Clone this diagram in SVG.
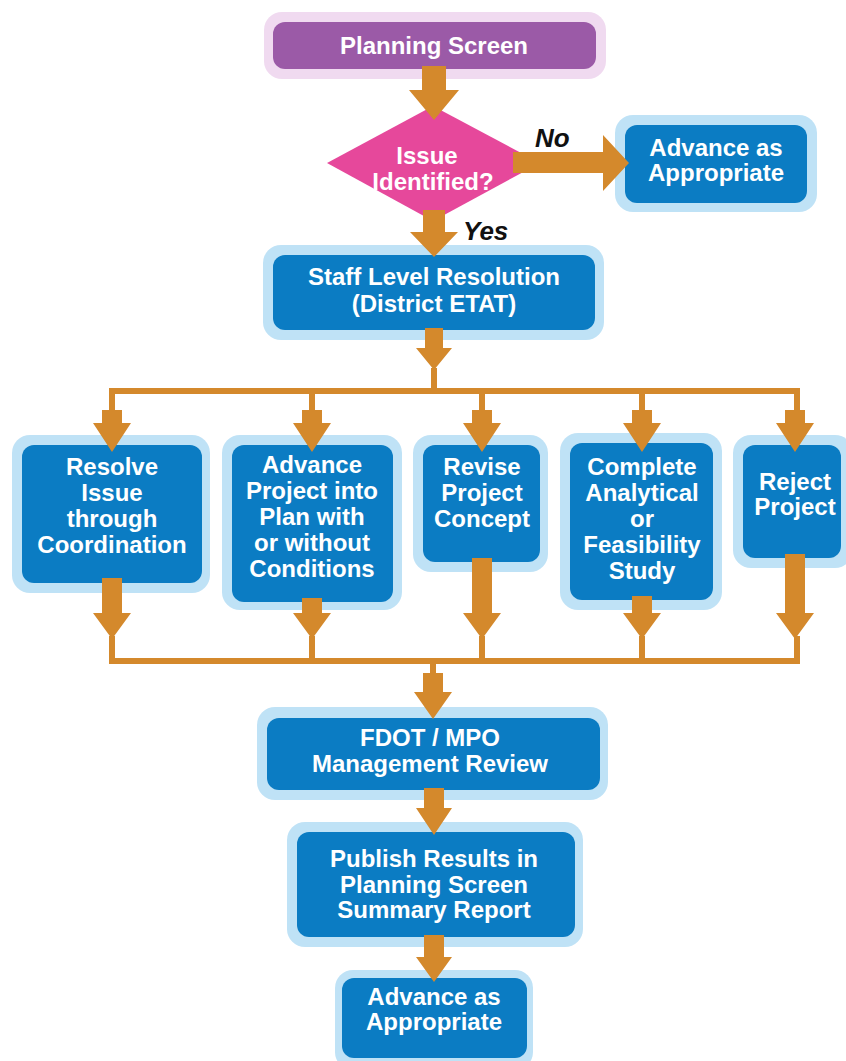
<svg xmlns="http://www.w3.org/2000/svg" width="846" height="1061" viewBox="0 0 846 1061">
<style>
.halo{fill:#bfe2f6}
.box{fill:#0b7cc3}
.t{font-family:"Liberation Sans",Arial,sans-serif;font-weight:bold;font-size:24px;fill:#fff;text-anchor:middle}
.lbl{font-family:"Liberation Sans",Arial,sans-serif;font-weight:bold;font-style:italic;font-size:26px;fill:#111}
.arr{fill:#d4892c}
.bus{fill:none;stroke:#d4892c;stroke-width:6}
</style>
<rect width="846" height="1061" fill="#fff"/>
<g id="planning-screen">
<rect x="264" y="12" width="342" height="67" rx="18" fill="#f0daf0"/>
<rect x="273" y="22" width="323" height="47" rx="12" fill="#9b5aa7"/>
<text class="t" x="434" y="54">Planning Screen</text>
</g>
<g id="issue-identified">
<polygon points="433,106 540,163 433,221 327,163" fill="#e6489b"/>
<text class="t" x="427" y="164">Issue</text>
<text class="t" x="433" y="190">Identified?</text>
</g>
<g id="advance-top">
<rect x="615" y="115" width="202" height="97" rx="18" class="halo"/>
<rect x="625" y="125" width="182" height="78" rx="12" class="box"/>
<text class="t" x="716" y="156">Advance as</text>
<text class="t" x="716" y="181">Appropriate</text>
</g>
<g id="staff-level">
<rect x="263" y="245" width="341" height="95" rx="18" class="halo"/>
<rect x="273" y="255" width="322" height="75" rx="12" class="box"/>
<text class="t" x="434" y="285">Staff Level Resolution</text>
<text class="t" x="434" y="312">(District ETAT)</text>
</g>
<g id="resolve-issue">
<rect x="12" y="435" width="198" height="158" rx="18" class="halo"/>
<rect x="22" y="445" width="180" height="138" rx="12" class="box"/>
<text class="t" x="112" y="475">Resolve</text>
<text class="t" x="112" y="501">Issue</text>
<text class="t" x="112" y="527">through</text>
<text class="t" x="112" y="553">Coordination</text>
</g>
<g id="advance-project">
<rect x="222" y="435" width="180" height="175" rx="18" class="halo"/>
<rect x="232" y="445" width="161" height="157" rx="12" class="box"/>
<text class="t" x="312" y="473">Advance</text>
<text class="t" x="312" y="499">Project into</text>
<text class="t" x="312" y="525">Plan with</text>
<text class="t" x="312" y="551">or without</text>
<text class="t" x="312" y="577">Conditions</text>
</g>
<g id="revise-project">
<rect x="413" y="435" width="135" height="137" rx="18" class="halo"/>
<rect x="423" y="445" width="117" height="117" rx="12" class="box"/>
<text class="t" x="482" y="475">Revise</text>
<text class="t" x="482" y="501">Project</text>
<text class="t" x="482" y="527">Concept</text>
</g>
<g id="complete-study">
<rect x="560" y="433" width="162" height="177" rx="18" class="halo"/>
<rect x="570" y="443" width="143" height="157" rx="12" class="box"/>
<text class="t" x="642" y="475">Complete</text>
<text class="t" x="642" y="501">Analytical</text>
<text class="t" x="642" y="527">or</text>
<text class="t" x="642" y="553">Feasibility</text>
<text class="t" x="642" y="579">Study</text>
</g>
<g id="reject-project">
<rect x="733" y="435" width="120" height="133" rx="18" class="halo"/>
<rect x="743" y="445" width="98" height="113" rx="12" class="box"/>
<text class="t" x="795" y="490">Reject</text>
<text class="t" x="795" y="515">Project</text>
</g>
<g id="management-review">
<rect x="257" y="707" width="351" height="93" rx="18" class="halo"/>
<rect x="267" y="718" width="333" height="72" rx="12" class="box"/>
<text class="t" x="430" y="746">FDOT / MPO</text>
<text class="t" x="430" y="772">Management Review</text>
</g>
<g id="publish-results">
<rect x="287" y="822" width="296" height="125" rx="18" class="halo"/>
<rect x="297" y="832" width="278" height="105" rx="12" class="box"/>
<text class="t" x="434" y="867">Publish Results in</text>
<text class="t" x="434" y="893">Planning Screen</text>
<text class="t" x="434" y="918">Summary Report</text>
</g>
<g id="advance-bottom">
<rect x="335" y="970" width="198" height="100" rx="18" class="halo"/>
<rect x="342" y="978" width="185" height="80" rx="12" class="box"/>
<text class="t" x="434" y="1005">Advance as</text>
<text class="t" x="434" y="1030">Appropriate</text>
</g>
<g id="connectors">
<polygon class="arr" points="422,66 446,66 446,90 459,90 434,120 409,90 422,90"/>
<polygon class="arr" points="513,152 603,152 603,135 629,163 603,191 603,173 513,173"/>
<polygon class="arr" points="423,210 445,210 445,232 458,232 434,257 410,232 423,232"/>
<polygon class="arr" points="425,328 443,328 443,348 452,348 434,370 416,348 425,348"/>
<line x1="434" y1="368" x2="434" y2="391" stroke="#d4892c" stroke-width="6"/>
<polyline class="bus" points="112,412 112,391 797,391 797,412"/>
<line x1="312" y1="391" x2="312" y2="412" stroke="#d4892c" stroke-width="6"/>
<line x1="482" y1="391" x2="482" y2="412" stroke="#d4892c" stroke-width="6"/>
<line x1="642" y1="391" x2="642" y2="412" stroke="#d4892c" stroke-width="6"/>
<polygon class="arr" points="102,410 122,410 122,423 131,423 112,452 93,423 102,423"/>
<polygon class="arr" points="302,410 322,410 322,423 331,423 312,452 293,423 302,423"/>
<polygon class="arr" points="472,410 492,410 492,423 501,423 482,452 463,423 472,423"/>
<polygon class="arr" points="632,410 652,410 652,423 661,423 642,452 623,423 632,423"/>
<polygon class="arr" points="785,410 805,410 805,423 814,423 795,452 776,423 785,423"/>
<polygon class="arr" points="102,578 122,578 122,613 131,613 112,639 93,613 102,613"/>
<polygon class="arr" points="302,598 322,598 322,613 331,613 312,639 293,613 302,613"/>
<polygon class="arr" points="472,558 492,558 492,613 501,613 482,639 463,613 472,613"/>
<polygon class="arr" points="632,596 652,596 652,613 661,613 642,639 623,613 632,613"/>
<polygon class="arr" points="785,554 805,554 805,613 814,613 795,639 776,613 785,613"/>
<polyline class="bus" points="112,636 112,661 797,661 797,636"/>
<line x1="312" y1="636" x2="312" y2="661" stroke="#d4892c" stroke-width="6"/>
<line x1="482" y1="636" x2="482" y2="661" stroke="#d4892c" stroke-width="6"/>
<line x1="642" y1="636" x2="642" y2="661" stroke="#d4892c" stroke-width="6"/>
<line x1="433" y1="661" x2="433" y2="676" stroke="#d4892c" stroke-width="6"/>
<polygon class="arr" points="423,673 443,673 443,692 452,692 433,719 414,692 423,692"/>
<polygon class="arr" points="424,788 444,788 444,808 452,808 434,835 416,808 424,808"/>
<polygon class="arr" points="424,935 444,935 444,957 452,957 434,982 416,957 424,957"/>
</g>
<text class="lbl" x="535" y="147">No</text>
<text class="lbl" x="463" y="240">Yes</text>
</svg>
